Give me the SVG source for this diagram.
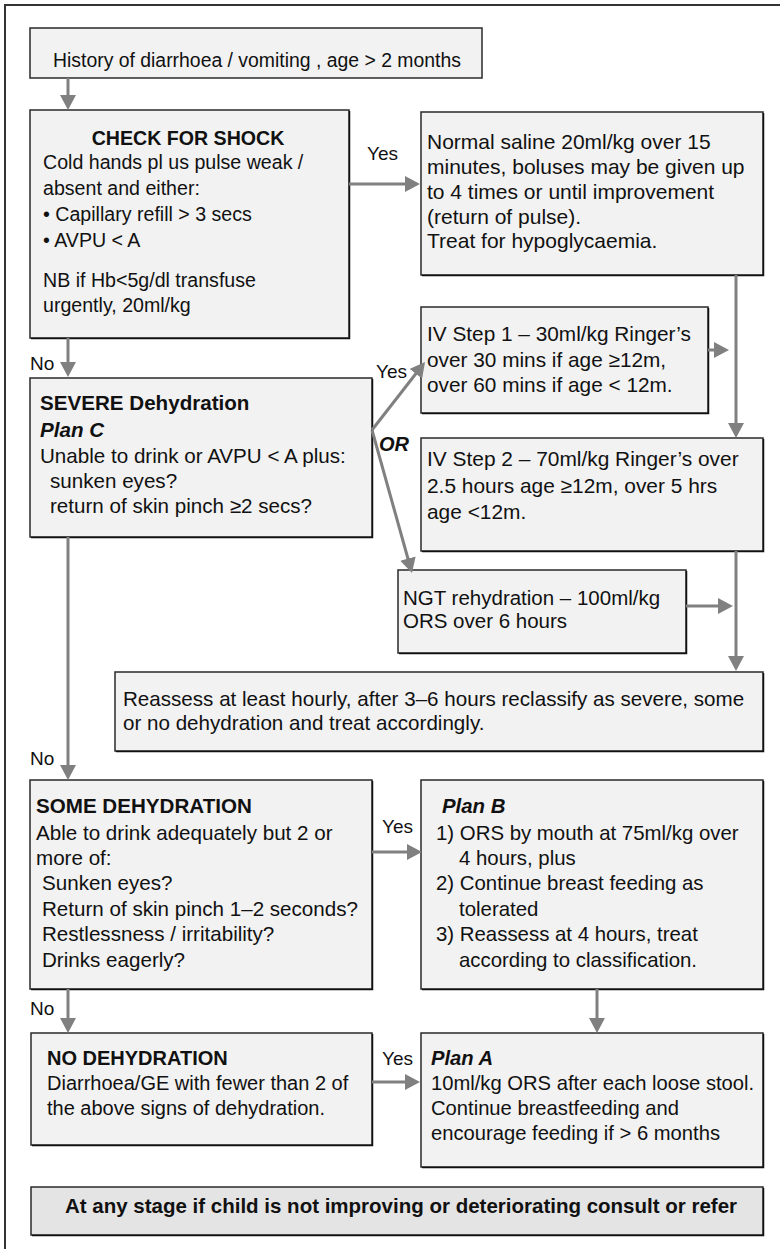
<svg xmlns="http://www.w3.org/2000/svg" width="780" height="1249" viewBox="0 0 780 1249">
<style>
.box{fill:#f2f2f2;stroke:#2a2a2a;stroke-width:1.5}
.sh{fill:none;stroke:#111;stroke-width:1.5}
.dark{fill:#e4e4e4}
text{font-family:"Liberation Sans",Arial,sans-serif;font-size:20px;fill:#111}
.b{font-weight:bold}
.bi{font-weight:bold;font-style:italic}
.lab{font-size:19px}
.conn line{stroke:#808080;stroke-width:3;marker-end:url(#ah)}
</style>
<defs>
<marker id="ah" markerUnits="userSpaceOnUse" markerWidth="16" markerHeight="16" refX="1" refY="8" orient="auto">
<path d="M0,0 L15,8 L0,16 z" fill="#808080"/>
</marker>
</defs>
<rect x="5" y="5" width="800" height="1300" fill="none" stroke="#333" stroke-width="2"/>

<g id="start" style="font-size:19.4px">
<rect class="box" x="30" y="28" width="452" height="50"/>
<text x="53" y="67" style="font-size:19.4px">History of diarrhoea / vomiting , age &gt; 2 months</text>
</g>

<g id="shock">
<rect class="box" x="30" y="110" width="319" height="228"/>
<polyline class="sh" points="349.5,111 349.5,338.5 31,338.5"/>
<text class="b" x="188" y="145" text-anchor="middle" style="font-size:19.6px">CHECK FOR SHOCK</text>
<text x="43" y="169" style="font-size:19.6px">Cold hands pl us pulse weak /</text>
<text x="43" y="195" style="font-size:19.6px">absent and either:</text>
<text x="43" y="221" style="font-size:19.6px">• Capillary refill &gt; 3 secs</text>
<text x="43" y="247" style="font-size:19.6px">• AVPU &lt; A</text>
<text x="43" y="287" style="font-size:19.6px">NB if Hb&lt;5g/dl transfuse</text>
<text x="43" y="312" style="font-size:19.6px">urgently, 20ml/kg</text>
</g>

<g id="saline">
<rect class="box" x="421" y="112" width="342" height="163"/>
<polyline class="sh" points="763.5,113 763.5,275.5 422,275.5"/>
<text x="427" y="149" style="font-size:21px">Normal saline 20ml/kg over 15</text>
<text x="427" y="174" style="font-size:21px">minutes, boluses may be given up</text>
<text x="427" y="199" style="font-size:21px">to 4 times or until improvement</text>
<text x="427" y="224" style="font-size:21px">(return of pulse).</text>
<text x="427" y="248" style="font-size:21px">Treat for hypoglycaemia.</text>
</g>

<g id="iv1">
<rect class="box" x="421" y="307" width="287" height="106"/>
<polyline class="sh" points="708.5,308 708.5,413.5 422,413.5"/>
<text x="427" y="341" style="font-size:20.8px">IV Step 1 – 30ml/kg Ringer’s</text>
<text x="427" y="367" style="font-size:20.8px">over 30 mins if age ≥12m,</text>
<text x="427" y="392" style="font-size:20.8px">over 60 mins if age &lt; 12m.</text>
</g>

<g id="iv2">
<rect class="box" x="421" y="438" width="342" height="113"/>
<polyline class="sh" points="763.5,439 763.5,551.5 422,551.5"/>
<text x="427" y="466" style="font-size:20.9px">IV Step 2 – 70ml/kg Ringer’s over</text>
<text x="427" y="493" style="font-size:20.9px">2.5 hours age ≥12m, over 5 hrs</text>
<text x="427" y="519" style="font-size:20.9px">age &lt;12m.</text>
</g>

<g id="ngt">
<rect class="box" x="398" y="570" width="288" height="83"/>
<polyline class="sh" points="686.5,571 686.5,653.5 399,653.5"/>
<text x="403" y="605" style="font-size:20.5px">NGT rehydration – 100ml/kg</text>
<text x="403" y="628" style="font-size:20.5px">ORS over 6 hours</text>
</g>

<g id="reassess">
<rect class="box" x="115" y="672" width="648" height="79"/>
<polyline class="sh" points="763.5,673 763.5,751.5 116,751.5"/>
<text x="123" y="706" style="font-size:20.6px">Reassess at least hourly, after 3–6 hours reclassify as severe, some</text>
<text x="123" y="730" style="font-size:20.6px">or no dehydration and treat accordingly.</text>
</g>

<g id="severe">
<rect class="box" x="30" y="378" width="342" height="159"/>
<polyline class="sh" points="372.5,379 372.5,537.5 31,537.5"/>
<text class="b" x="40" y="410" style="font-size:20.6px">SEVERE Dehydration</text>
<text class="bi" x="40" y="437" style="font-size:20.6px">Plan C</text>
<text x="40" y="463" style="font-size:20.6px">Unable to drink or AVPU &lt; A plus:</text>
<text x="50" y="488" style="font-size:20.6px">sunken eyes?</text>
<text x="50" y="513" style="font-size:20.6px">return of skin pinch ≥2 secs?</text>
</g>

<g id="some">
<rect class="box" x="30" y="780" width="342" height="209"/>
<polyline class="sh" points="372.5,781 372.5,989.5 31,989.5"/>
<text class="b" x="36" y="813" style="font-size:20.6px">SOME DEHYDRATION</text>
<text x="36" y="840" style="font-size:20.6px">Able to drink adequately but 2 or</text>
<text x="36" y="865" style="font-size:20.6px">more of:</text>
<text x="42" y="890" style="font-size:20.6px">Sunken eyes?</text>
<text x="42" y="916" style="font-size:20.6px">Return of skin pinch 1–2 seconds?</text>
<text x="42" y="941" style="font-size:20.6px">Restlessness / irritability?</text>
<text x="42" y="967" style="font-size:20.6px">Drinks eagerly?</text>
</g>

<g id="planB">
<rect class="box" x="421" y="780" width="342" height="209"/>
<polyline class="sh" points="763.5,781 763.5,989.5 422,989.5"/>
<text class="bi" x="442" y="813" style="font-size:20.4px">Plan B</text>
<text x="436" y="840" style="font-size:20.4px">1) ORS by mouth at 75ml/kg over</text>
<text x="459" y="865" style="font-size:20.4px">4 hours, plus</text>
<text x="436" y="890" style="font-size:20.4px">2) Continue breast feeding as</text>
<text x="459" y="916" style="font-size:20.4px">tolerated</text>
<text x="436" y="941" style="font-size:20.4px">3) Reassess at 4 hours, treat</text>
<text x="459" y="967" style="font-size:20.4px">according to classification.</text>
</g>

<g id="none">
<rect class="box" x="31" y="1033" width="341" height="112"/>
<polyline class="sh" points="372.5,1034 372.5,1145.5 32,1145.5"/>
<text class="b" x="47" y="1065">NO DEHYDRATION</text>
<text x="47" y="1090">Diarrhoea/GE with fewer than 2 of</text>
<text x="47" y="1115">the above signs of dehydration.</text>
</g>

<g id="planA">
<rect class="box" x="421" y="1033" width="342" height="134"/>
<polyline class="sh" points="763.5,1034 763.5,1167.5 422,1167.5"/>
<text class="bi" x="431" y="1065" style="font-size:20.2px">Plan A</text>
<text x="431" y="1090" style="font-size:20.2px">10ml/kg ORS after each loose stool.</text>
<text x="431" y="1115" style="font-size:20.2px">Continue breastfeeding and</text>
<text x="431" y="1140" style="font-size:20.2px">encourage feeding if &gt; 6 months</text>
</g>

<g id="refer">
<rect class="box dark" x="31" y="1187" width="732" height="48"/>
<polyline class="sh" points="763.5,1188 763.5,1235.5 32,1235.5"/>
<text class="b" x="401" y="1213" text-anchor="middle" style="font-size:20.5px">At any stage if child is not improving or deteriorating consult or refer</text>
</g>

<g id="connectors" class="conn">
<line x1="68" y1="78" x2="68" y2="96"/>
<line x1="349" y1="184" x2="406" y2="184"/>
<line x1="736" y1="275" x2="736" y2="424"/>
<line x1="708" y1="350" x2="715" y2="350"/>
<line x1="736" y1="551" x2="736" y2="657"/>
<line x1="686" y1="606" x2="719" y2="606"/>
<line x1="68" y1="338" x2="68" y2="363"/>
<line x1="372" y1="430" x2="416.4" y2="373"/>
<line x1="372" y1="430" x2="408.2" y2="559.5"/>
<line x1="68" y1="537" x2="68" y2="766"/>
<line x1="372" y1="852" x2="408" y2="852"/>
<line x1="597" y1="989" x2="597" y2="1019"/>
<line x1="68" y1="989" x2="68" y2="1019"/>
<line x1="372" y1="1082" x2="406" y2="1082"/>
</g>

<g id="labels">
<text class="lab" x="367" y="160">Yes</text>
<text class="lab" x="30" y="370">No</text>
<text class="lab" x="376" y="378">Yes</text>
<text class="bi" x="379" y="451">OR</text>
<text class="lab" x="30" y="765">No</text>
<text class="lab" x="382" y="833">Yes</text>
<text class="lab" x="30" y="1015">No</text>
<text class="lab" x="382" y="1065">Yes</text>
</g>
</svg>
